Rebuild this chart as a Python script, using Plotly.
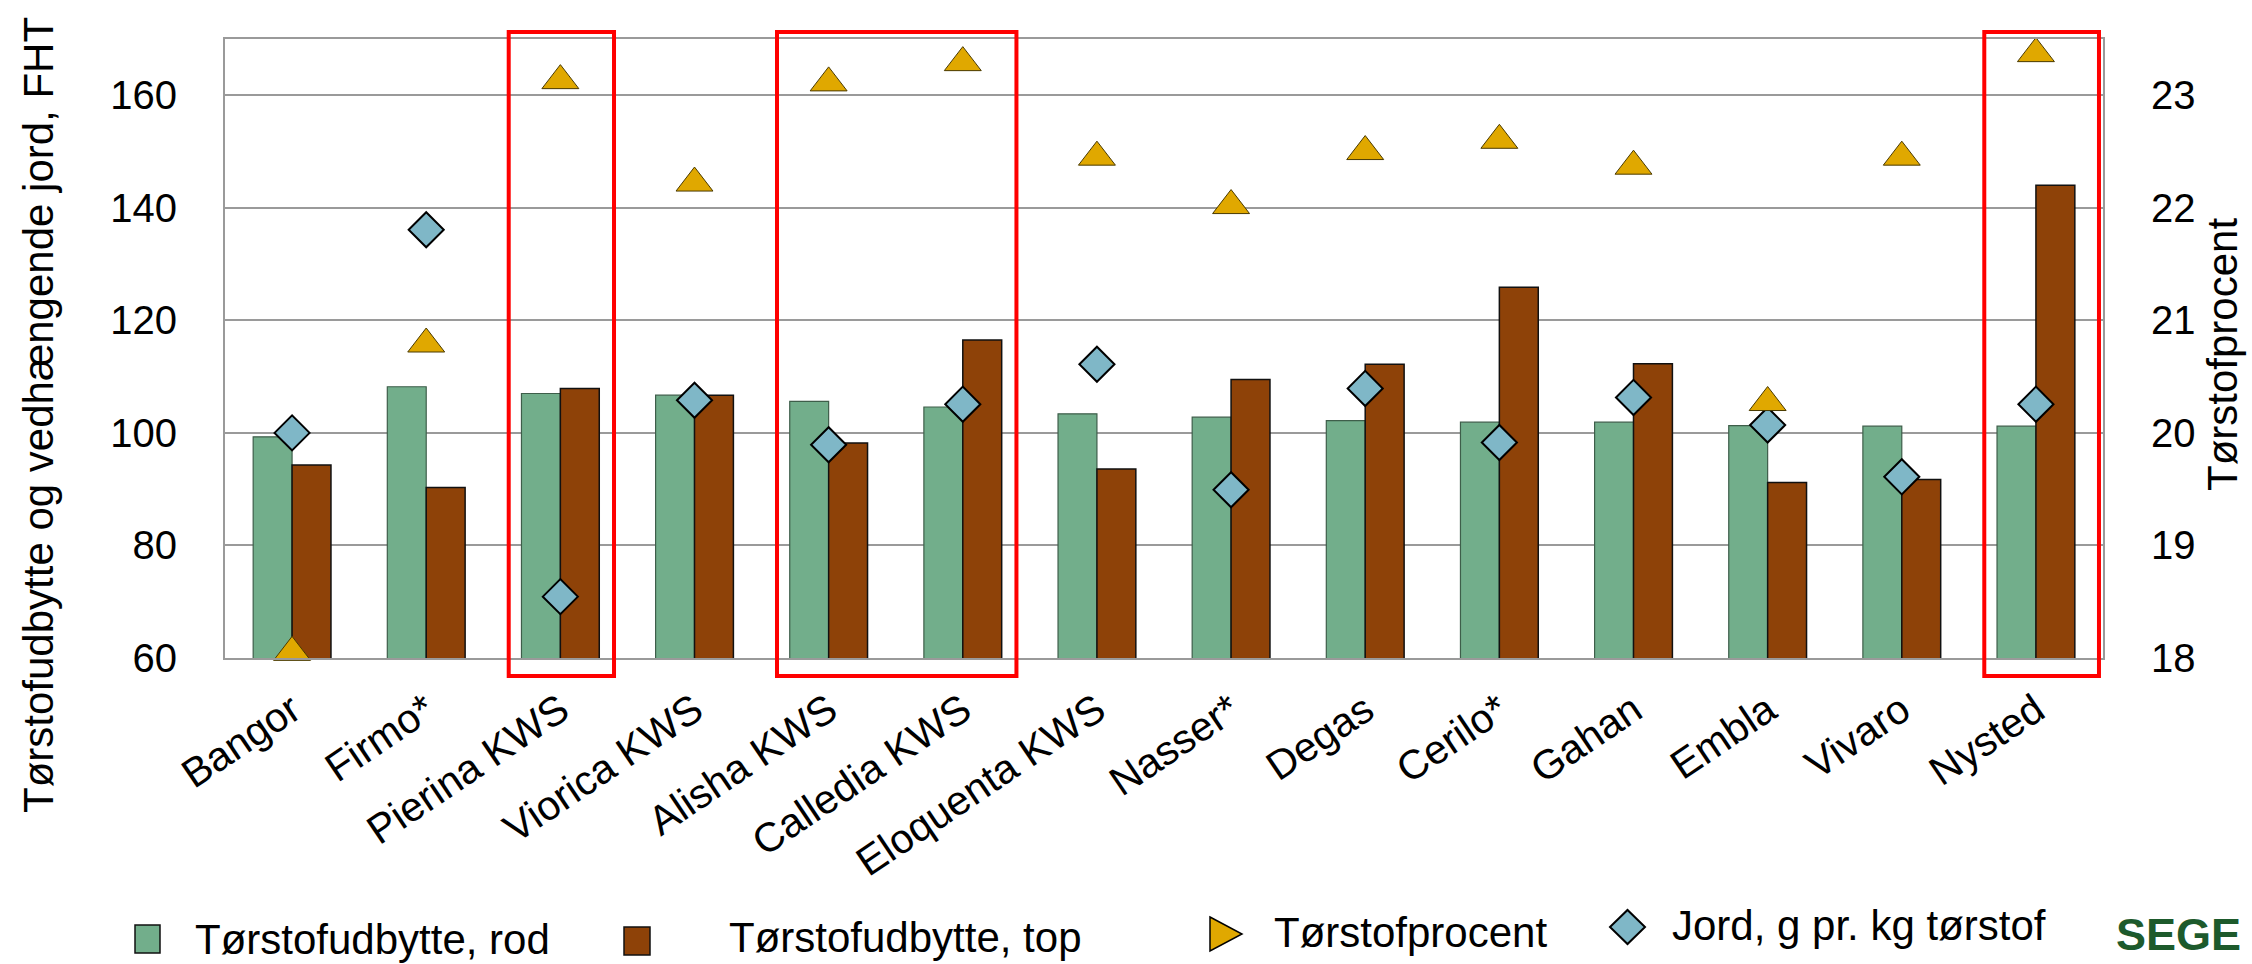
import plotly.graph_objects as go

# ---------------- data ----------------
categories = ["Bangor", "Firmo*", "Pierina KWS", "Viorica KWS", "Alisha KWS",
              "Calledia KWS", "Eloquenta KWS", "Nasser*", "Degas", "Cerilo*",
              "Gahan", "Embla", "Vivaro", "Nysted"]
udbytte_rod = [99.3, 108.2, 107.0, 106.7, 105.6, 104.6, 103.4, 102.8, 102.2, 101.9,
               101.9, 101.3, 101.2, 101.2]
udbytte_top = [94.3, 90.3, 107.9, 106.7, 98.2, 116.5, 93.6, 109.5, 112.2, 125.9,
               112.3, 91.2, 91.7, 144.0]
torstofprocent = [18.05, 20.79, 23.13, 22.22, 23.11, 23.29, 22.45, 22.02, 22.50, 22.60,
                  22.37, 20.27, 22.45, 23.37]
jord = [100.0, 136.1, 70.9, 105.8, 97.9, 105.1, 112.2, 89.9, 107.9, 98.3,
        106.3, 101.4, 92.2, 105.1]
left_ticks = [60, 80, 100, 120, 140, 160]
right_ticks = [18, 19, 20, 21, 22, 23]
highlight_groups = [("Pierina KWS", "Pierina KWS"), ("Alisha KWS", "Calledia KWS"),
                    ("Nysted", "Nysted")]
series_names = ["Tørstofudbytte, rod", "Tørstofudbytte, top", "Tørstofprocent",
                "Jord, g pr. kg tørstof"]

# ---------------- style ----------------
FONT = "Liberation Sans, Arial, sans-serif"
GREEN = "#72AE8B"
BROWN = "#8E4208"
GOLD = "#E0A800"
BLUE = "#7FB7C7"
GRID = "#9A9A9A"

W, H = 2252, 964
ML, MR, MT, MB = 225, 149, 39, 306
PW, PH = W - ML - MR, H - MT - MB


def px_x(px):
    return (px - ML) / PW


def px_y(py):
    return (H - MB - py) / PH


fig = go.Figure()

fig.add_trace(go.Bar(
    x=categories, y=udbytte_rod, name=series_names[0],
    marker=dict(color=GREEN, line=dict(color="#3E5E4A", width=1.2)),
))
fig.add_trace(go.Bar(
    x=categories, y=udbytte_top, name=series_names[1],
    marker=dict(color=BROWN, line=dict(color="#111111", width=1.5)),
))
fig.add_trace(go.Scatter(
    x=categories, y=jord, mode="markers", name=series_names[3],
    marker=dict(symbol="diamond", size=27, color=BLUE, line=dict(color="#000000", width=2)),
    cliponaxis=False,
))
fig.add_trace(go.Scatter(
    x=categories, y=torstofprocent, mode="markers", name=series_names[2],
    marker=dict(symbol="triangle-up", size=32, color=GOLD, line=dict(color="#4A3A00", width=1)),
    yaxis="y2", cliponaxis=False,
))

# highlight rectangles around selected varieties
n = len(categories)
for a, b in highlight_groups:
    ia, ib = categories.index(a), categories.index(b)
    x0 = (ia + 0.5 - 0.385) / n
    x1 = (ib + 0.5 + 0.40) / n
    if ib == n - 1:
        x1 = (ib + 0.5 + 0.47) / n
    fig.add_shape(type="rect", xref="x domain", yref="paper",
                  x0=x0, x1=x1, y0=px_y(676), y1=px_y(32),
                  line=dict(color="#FF0000", width=4), fillcolor="rgba(0,0,0,0)",
                  layer="above")

# ---------------- legend (drawn as in the original, items at free positions) ----------------
LEG_FONT = dict(family=FONT, size=42, color="#000000")
for (x0, x1, y0, y1), col in [((135, 160, 925, 953), GREEN), ((624, 650, 927, 955), BROWN)]:
    fig.add_shape(type="rect", xref="paper", yref="paper",
                  x0=px_x(x0), x1=px_x(x1), y0=px_y(y1), y1=px_y(y0),
                  fillcolor=col, line=dict(color="#111111", width=1.5))
tri = "M {a},{b} L {c},{d} L {a},{e} Z".format(
    a=px_x(1210), b=px_y(917), c=px_x(1242), d=px_y(934), e=px_y(951))
fig.add_shape(type="path", xref="paper", yref="paper", path=tri,
              fillcolor=GOLD, line=dict(color="#000000", width=1.5))
dia = "M {l},{m} L {c},{t} L {r},{m} L {c},{b} Z".format(
    l=px_x(1610), r=px_x(1645), c=px_x(1627.5), m=px_y(927), t=px_y(910), b=px_y(944))
fig.add_shape(type="path", xref="paper", yref="paper", path=dia,
              fillcolor=BLUE, line=dict(color="#000000", width=2))
for name, tx, ty in zip(series_names, [193, 727, 1272, 1670], [939, 937, 932, 925]):
    fig.add_annotation(text=name, xref="paper", yref="paper", x=px_x(tx), y=px_y(ty),
                       xanchor="left", yanchor="middle", showarrow=False, font=LEG_FONT)

# axis titles as annotations
fig.add_annotation(text="Tørstofudbytte og vedhængende jord, FHT", textangle=-90,
                   xref="paper", yref="paper", x=px_x(38), y=px_y(415),
                   xanchor="center", yanchor="middle", showarrow=False,
                   font=dict(family=FONT, size=42, color="#000000"))
fig.add_annotation(text="Tørstofprocent", textangle=-90,
                   xref="paper", yref="paper", x=px_x(2222), y=px_y(355),
                   xanchor="center", yanchor="middle", showarrow=False,
                   font=dict(family=FONT, size=42, color="#000000"))
# logo text (the original shows it cropped at the corner)
fig.add_annotation(text="<b>SEGE</b>", xref="paper", yref="paper",
                   x=px_x(2114), y=px_y(962), xanchor="left", yanchor="bottom",
                   showarrow=False,
                   font=dict(family=FONT, size=45, color="#1D5A2C"))

fig.update_layout(
    width=W, height=H,
    margin=dict(l=ML, r=MR, t=MT, b=MB, pad=0, autoexpand=False),
    paper_bgcolor="white", plot_bgcolor="white",
    font=dict(family=FONT, size=40, color="#000000"),
    barmode="group", bargap=0.42, bargroupgap=0,
    showlegend=False,
    xaxis=dict(
        type="category", range=[-0.5, n - 0.5], autorange=False,
        showgrid=False, showline=True, mirror=True,
        linecolor=GRID, linewidth=2, ticks="", tickangle=-34, automargin=False,
        tickfont=dict(family=FONT, size=41, color="#000000"),
        ticklabelstandoff=10,
    ),
    yaxis=dict(
        range=[60, 170], tickvals=left_ticks, showgrid=True, gridcolor=GRID, gridwidth=2,
        showline=True, linecolor=GRID, linewidth=2, ticks="", zeroline=False,
        automargin=False,
        tickfont=dict(family=FONT, size=40, color="#000000"),
        ticklabelstandoff=38,
    ),
    yaxis2=dict(
        range=[18, 23.5], tickvals=right_ticks, overlaying="y", side="right",
        showgrid=False, showline=True, linecolor=GRID, linewidth=2, ticks="",
        zeroline=False, automargin=False,
        tickfont=dict(family=FONT, size=40, color="#000000"),
        ticklabelstandoff=38,
    ),
)

fig.write_html("out.html",
               config={"displayModeBar": False},
               post_script="document.body.style.margin='0px';"
                           "document.documentElement.style.overflow='hidden';")
